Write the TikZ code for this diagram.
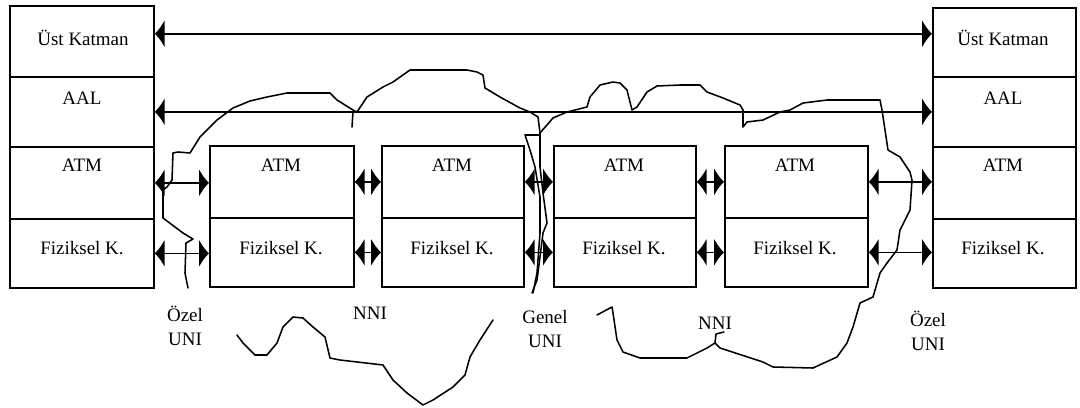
\documentclass[tikz,border=0pt]{standalone}
\usepackage{fontspec}
\setmainfont{Liberation Serif}
\usetikzlibrary{arrows.meta,calc}
\newcommand\diagfont{\fontsize{13.5}{17.5}\selectfont}
\tikzset{
  cell/.style={draw, line width=1.2pt, inner sep=0pt, anchor=north west},
  txt/.style={font=\diagfont, inner sep=0pt, anchor=center, align=center},
  conn/.style={line width=1.2pt, >={Latex[length=7pt,width=20pt]}, <->},
  cloudline/.style={line width=1.1pt, line join=round, line cap=round}
}
\begin{document}
\begin{tikzpicture}[x=0.025cm, y=-0.025cm]
\useasboundingbox (0,0) rectangle (1080,408);
% left stack
\node[cell, minimum width=3.6cm, minimum height=1.775cm] (LU) at (9,5) {};
\node[cell, minimum width=3.6cm, minimum height=1.75cm] (LA) at (9,76) {};
\node[cell, minimum width=3.6cm, minimum height=1.8cm] (LT) at (9,146) {};
\node[cell, minimum width=3.6cm, minimum height=1.725cm] (LF) at (9,218) {};
% right stack
\node[cell, minimum width=3.575cm, minimum height=1.725cm] (RU) at (932,7) {};
\node[cell, minimum width=3.575cm, minimum height=1.75cm] (RA) at (932,76) {};
\node[cell, minimum width=3.575cm, minimum height=1.8cm] (RT) at (932,146) {};
\node[cell, minimum width=3.575cm, minimum height=1.725cm] (RF) at (932,218) {};
% middle switches
\node[cell, minimum width=3.6cm, minimum height=1.8cm] (T1) at (209,145) {};
\node[cell, minimum width=3.6cm, minimum height=1.725cm] (F1) at (209,217) {};
\node[cell, minimum width=3.55cm, minimum height=1.8cm] (T2) at (381,145) {};
\node[cell, minimum width=3.55cm, minimum height=1.725cm] (F2) at (381,217) {};
\node[cell, minimum width=3.55cm, minimum height=1.8cm] (T3) at (553,145) {};
\node[cell, minimum width=3.55cm, minimum height=1.725cm] (F3) at (553,217) {};
\node[cell, minimum width=3.575cm, minimum height=1.8cm] (T4) at (724,145) {};
\node[cell, minimum width=3.575cm, minimum height=1.725cm] (F4) at (724,217) {};
% texts
\node[txt] (tLU) at (83,38) {Üst Katman};
\node[txt] (tLA) at (82,98) {AAL};
\node[txt] (tLT) at (82,165) {ATM};
\node[txt] (tLF) at (82,248) {Fiziksel K.};
\node[txt] (tRU) at (1003,38) {Üst Katman};
\node[txt] (tRA) at (1003,98) {AAL};
\node[txt] (tRT) at (1003,165) {ATM};
\node[txt] (tRF) at (1003,248) {Fiziksel K.};
\node[txt] (tT1) at (281,165) {ATM};
\node[txt] (tF1) at (281,248) {Fiziksel K.};
\node[txt] (tT2) at (452,165) {ATM};
\node[txt] (tF2) at (452,248) {Fiziksel K.};
\node[txt] (tT3) at (624,165) {ATM};
\node[txt] (tF3) at (624,248) {Fiziksel K.};
\node[txt] (tT4) at (795,165) {ATM};
\node[txt] (tF4) at (795,248) {Fiziksel K.};
\node[txt] (uni1) at (185,326) {Özel\\UNI};
\node[txt] (nni1) at (370,313) {NNI};
\node[txt] (uni2) at (545,329) {Genel\\UNI};
\node[txt] (nni2) at (715,323) {NNI};
\node[txt] (uni3) at (928,331) {Özel\\UNI};
% connectors
\draw[conn] ([yshift=0.19cm]LU.east) coordinate (a1) -- (a1 -| RU.west);
\draw[conn] (LA.east) -- (LA.east -| RA.west);
\draw[conn] (LT.east) -- (LT.east -| T1.west);
\draw[conn] (T1.east) -- (T1.east -| T2.west);
\draw[conn] (T2.east) -- (T2.east -| T3.west);
\draw[conn] (T3.east) -- (T3.east -| T4.west);
\draw[conn] (T4.east) -- (T4.east -| RT.west);
\draw[conn] (LF.east) -- (LF.east -| F1.west);
\draw[conn] (F1.east) -- (F1.east -| F2.west);
\draw[conn] (F2.east) -- (F2.east -| F3.west);
\draw[conn] (F3.east) -- (F3.east -| F4.west);
\draw[conn] (F4.east) -- (F4.east -| RF.west);
% left cloud
\draw[cloudline] (188,288) -- (185,273) -- (186,243) -- (193,239) -- (183,233) -- (163,218) -- (163,190) -- (167,187) -- (172,180) -- (173,153) -- (178,152) -- (190,153) -- (200,137) -- (217,120) -- (233,108) -- (250,101) -- (267,97) -- (287,93) -- (330,93) -- (337,100) -- (353,110) -- (357,112) -- (367,97) -- (383,87) -- (393,82) -- (410,70) -- (467,70) -- (477,72) -- (483,75) -- (485,88) -- (500,97) -- (520,108) -- (530,112) -- (538,117) -- (540,133) -- (540,167) -- (543,193) -- (547,223) -- (543,233) -- (540,257) -- (537,280) -- (532,293);
\draw[cloudline] (353,112) -- (352,127);
\draw[cloudline] (540,135) -- (525,135) -- (530,150) -- (535,167) -- (540,197) -- (540,233) -- (537,273) -- (533,293);
\draw[cloudline] (237,335) -- (243,343) -- (255,355) -- (267,355) -- (277,343) -- (283,327) -- (293,317) -- (303,318) -- (313,327) -- (325,337) -- (330,358) -- (340,360) -- (383,365) -- (393,380) -- (407,393) -- (423,405) -- (433,400) -- (453,387) -- (465,375) -- (470,357) -- (480,340) -- (493,320);
% right cloud
\draw[cloudline] (540,133) -- (553,118) -- (567,112) -- (587,107) -- (590,97) -- (600,85) -- (613,82) -- (620,83) -- (627,90) -- (632,110) -- (637,107) -- (647,92) -- (657,86) -- (680,85) -- (700,85) -- (707,92) -- (723,98) -- (740,105) -- (743,110) -- (743,127) -- (747,122) -- (763,120) -- (780,112) -- (790,110) -- (803,103) -- (827,100) -- (880,100) -- (882,110) -- (888,150) -- (900,157) -- (910,172) -- (912,180) -- (910,210) -- (900,230) -- (897,250) -- (887,263) -- (880,273) -- (873,297) -- (860,303) -- (853,327) -- (847,343) -- (837,357) -- (813,368) -- (773,367) -- (763,362) -- (720,348) -- (715,343) -- (707,348) -- (687,358) -- (640,358) -- (623,352) -- (617,340) -- (613,313) -- (612,307) -- (597,315);
\draw[cloudline] (715,343) -- (716,334) -- (724,332);
\end{tikzpicture}
\end{document}
